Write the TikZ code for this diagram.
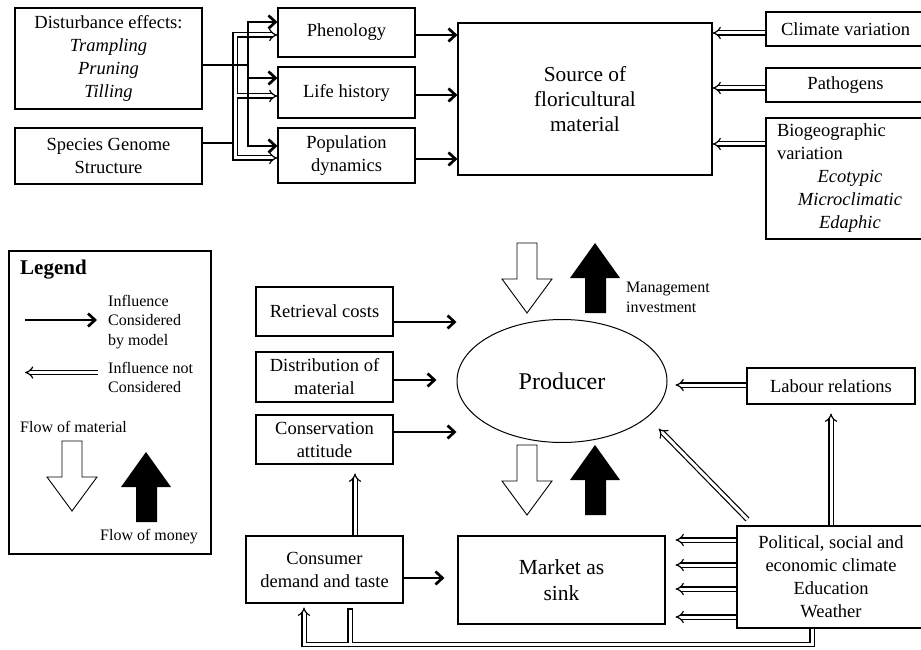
\documentclass[tikz,border=0pt]{standalone}
\usepackage{fontspec}
\setmainfont{Liberation Serif}
\usetikzlibrary{arrows.meta,shapes.geometric}
\newcommand\boxfont{\fontsize{18.5}{23}\selectfont}
\newcommand\srcfont{\fontsize{21.3}{25}\selectfont}
\newcommand\mktfont{\fontsize{21.5}{26}\selectfont}
\newcommand\prodfont{\fontsize{24}{28}\selectfont}
\newcommand\legfont{\fontsize{16}{19.5}\selectfont}

\begin{document}
\begin{tikzpicture}[x=1pt,y=-1pt,
  box/.style={draw,line width=1.1pt,align=center,inner sep=0pt,font=\boxfont},
  lbl/.style={inner sep=0pt,align=left,anchor=west,font=\legfont},
  cons/.style={line width=2.7pt,-{Straight Barb[length=7pt,width=13pt]}},
  hollow/.style={double,double distance=3pt,line width=1.2pt},
  notcons/.style={hollow,-Implies},
  flowmat/.style={draw,fill=white,line width=0.9pt}]
\path[use as bounding box,fill=white] (0,0) rectangle (921,650);
% boxes
\node[box,minimum width=187pt,minimum height=101pt] (dist) at (108.5,58.5)
  {Disturbance effects:\\\textit{Trampling}\\\textit{Pruning}\\\textit{Tilling}};
\node[box,minimum width=187pt,minimum height=56pt] (genome) at (108.5,156) {Species Genome\\Structure};
\node[box,minimum width=137pt,minimum height=49pt] (phen) at (346.5,32.5) {Phenology};
\node[box,minimum width=137pt,minimum height=51pt] (life) at (346.5,92.5) {Life history};
\node[box,minimum width=137pt,minimum height=55pt] (popd) at (346.5,155.5) {Population\\dynamics};
\node[box,minimum width=254pt,minimum height=152pt,font=\srcfont] (src) at (585,99) {Source of\\floricultural\\material};
\node[box,minimum width=159pt,minimum height=34pt] (clim) at (845.5,29) {Climate variation};
\node[box,minimum width=159pt,minimum height=34pt] (path) at (845.5,85) {Pathogens};
\node[box,minimum width=159pt,minimum height=121pt,text width=137pt,align=left,inner xsep=11pt] (bio) at (845.5,178.5)
  {Biogeographic\\variation\\\makebox[146pt]{\itshape Ecotypic}\\\makebox[146pt]{\itshape Microclimatic}\\\makebox[146pt]{\itshape Edaphic}};
\node[box,minimum width=137pt,minimum height=49pt] (retr) at (324.5,311.5) {Retrieval costs};
\node[box,minimum width=137pt,minimum height=50pt] (distr) at (324.5,377) {Distribution of\\material};
\node[box,minimum width=137pt,minimum height=49pt] (consv) at (324.5,439.5) {Conservation\\attitude};
\node[draw,ellipse,line width=1pt,minimum width=210pt,minimum height=123pt,inner sep=0pt,font=\prodfont] (prod) at (562,381) {Producer};
\node[box,minimum width=168pt,minimum height=36pt] (labour) at (831,386) {Labour relations};
\node[box,minimum width=188pt,minimum height=102pt] (polit) at (831,577) {Political, social and\\economic climate\\Education\\Weather};
\node[box,minimum width=157pt,minimum height=67pt] (consum) at (324.5,569.5) {Consumer\\demand and taste};
\node[box,minimum width=207pt,minimum height=88pt,font=\mktfont] (market) at (561.5,580) {Market as\\sink};
\node[lbl] (mgmt) at (626,297.5) {Management\\investment};
% legend
\node[draw,line width=1.1pt,minimum width=202pt,minimum height=303pt] (lgd) at (110,402.5) {};
\node[lbl,font=\fontsize{21}{25}\selectfont\bfseries] (lgt) at (20,270) {Legend};
\node[lbl] (lgc) at (108,322) {Influence\\Considered\\by model};
\node[lbl] (lgn) at (108,377.5) {Influence not\\Considered};
\node[lbl] (lgm) at (20,427) {Flow of material};
\node[lbl] (lgy) at (100,537) {Flow of money};
\draw[cons] ([shift={(-83,-2)}]lgc.west) -- ([shift={(-11,-2)}]lgc.west);
\draw[notcons] ([shift={(-10,-5)}]lgn.west) -- ([shift={(-83,-5)}]lgn.west);
% flows of material and money
\foreach \x/\y in {527/243,527/445,72/441}
  \draw[flowmat] (\x-10,\y) -- ++(20,0) -- ++(0,36) -- ++(15,0) -- ++(-25,34) -- ++(-25,-34) -- ++(15,0) -- cycle;
\foreach \x/\y in {595/243,595/445,146/452}
  \fill (\x,\y) -- ++(25,35) -- ++(-14,0) -- ++(0,35) -- ++(-21,0) -- ++(0,-35) -- ++(-15,0) -- cycle;
% influences not considered
\draw[line width=1.1pt] ([yshift=13pt]genome.east) -- (235,143);
\draw[notcons] (235,143) |- (phen.west |- 0,35);
\draw[notcons] (235,143) |- (life.west |- 0,96);
\draw[notcons] (235,143) |- (popd.west |- 0,158);
\draw[white,line width=3pt] (235,35) -- (235,158);
\draw[notcons] (clim.west |- 0,33) -- (src.east |- 0,33);
\draw[notcons] (path.west |- 0,88) -- (src.east |- 0,88);
\draw[notcons] (bio.west |- 0,144) -- (src.east |- 0,144);
\draw[notcons,shorten >=8pt] (labour.west |- 0,385) -- (prod.east |- 0,385);
\draw[notcons,shorten >=9pt] (labour.south |- polit.north) -- (labour.south);
\draw[notcons,shorten >=16pt] ([shift={(11,-6)}]polit.north west) -- (prod.-23);
\foreach \y in {540,565,589,617}
  \draw[notcons,shorten >=10pt] (polit.west |- 0,\y) -- (market.east |- 0,\y);
\draw[notcons,shorten >=9pt] (consum.north -| 355,0) -- (consv.south -| 355,0);
\draw[notcons,shorten >=4pt] (polit.south -| 812,0) -- ++(0,16) -| (consum.south -| 304,0);
\draw[hollow] (350,644) -- (350,609);
\draw[white,line width=3pt] (304,644) -- (812,644);
\draw[line width=1.2pt] (347,609) -- (353,609);
% influences considered
\draw[cons,-] ([yshift=-6.5pt]dist.east) -- (248,65);
\draw[cons] (248,65) |- (phen.west |- 0,22);
\draw[cons] (248,65) |- (life.west |- 0,78);
\draw[cons] (248,65) |- (popd.west |- 0,146);
\draw[cons] (phen.east |- 0,35) -- (src.west |- 0,35);
\draw[cons] (life.east |- 0,95) -- (src.west |- 0,95);
\draw[cons] (popd.east |- 0,159) -- (src.west |- 0,159);
\draw[cons] (retr.east |- 0,322) -- (prod.west |- 0,322);
\draw[cons,shorten >=20pt] (distr.east |- 0,380) -- (prod.west |- 0,380);
\draw[cons] (consv.east |- 0,432) -- (prod.west |- 0,432);
\draw[cons,shorten >=13pt] (consum.east |- 0,578) -- (market.west |- 0,578);
\end{tikzpicture}
\end{document}
